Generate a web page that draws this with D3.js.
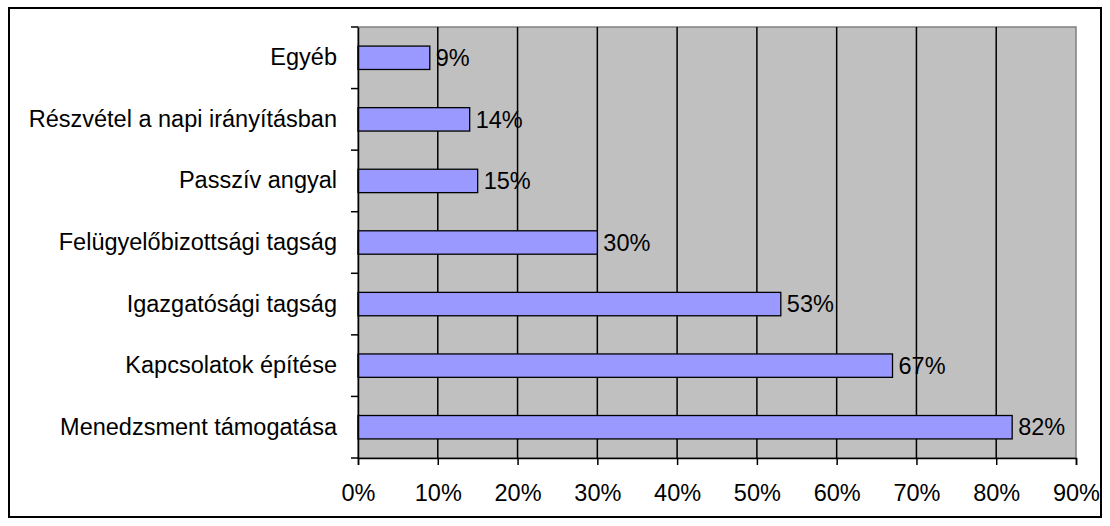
<!DOCTYPE html>
<html><head><meta charset="utf-8">
<script src="https://cdn.jsdelivr.net/npm/d3@7"></script>
<style>body{margin:0;background:#fff}text{font-family:"Liberation Sans",Arial,sans-serif}</style>
</head><body>
<svg id="c" width="1110" height="526"></svg>
<script>
const categories = ["Egyéb","Részvétel a napi irányításban","Passzív angyal","Felügyelőbizottsági tagság","Igazgatósági tagság","Kapcsolatok építése","Menedzsment támogatása"];
const values = [9,14,15,30,53,67,82];
const xTicks = [0,10,20,30,40,50,60,70,80,90];

const FS = 23.5;
const svg = d3.select("#c");
const L = 358, R = 1076, T = 27, B = 458;
svg.append("rect").attr("x",9).attr("y",8).attr("width",1092).attr("height",509)
  .attr("fill","#fff").attr("stroke","#000").attr("stroke-width",2);

const x = d3.scaleLinear().domain([0,90]).range([L,R]);
const y = d3.scaleBand().domain(categories).range([T,B]).paddingInner(0.62).paddingOuter(0.31);
const yb = d3.scaleBand().domain(categories).range([T,B]);

svg.append("rect").attr("x",L).attr("y",T).attr("width",R-L).attr("height",B-T)
  .attr("fill","#c0c0c0").attr("stroke","#808080").attr("stroke-width",1.5);

svg.append("g").selectAll("line").data(xTicks.slice(1,-1)).join("line")
  .attr("x1",d=>x(d)).attr("x2",d=>x(d)).attr("y1",T).attr("y2",B)
  .attr("stroke","#000").attr("stroke-width",1.5);

svg.append("g").selectAll("rect").data(values).join("rect")
  .attr("x",x(0)).attr("y",(d,i)=>y(categories[i])).attr("width",d=>x(d)-x(0)).attr("height",y.bandwidth())
  .attr("fill","#9999ff").attr("stroke","#000").attr("stroke-width",1.3);

svg.append("g").selectAll("text").data(values).join("text")
  .attr("x",d=>x(d)+6).attr("y",(d,i)=>y(categories[i])+y.bandwidth()/2)
  .attr("dy","0.35em").attr("font-size",FS).attr("fill","#000").text(d=>d+"%");

// axes
const xa = svg.append("g").attr("transform",`translate(0,${B})`)
  .call(d3.axisBottom(x).tickValues(xTicks).tickFormat(d=>d+"%").tickSize(7).tickPadding(19));
xa.select(".domain").attr("stroke","#000").attr("stroke-width",1.5);
xa.selectAll(".tick line").attr("stroke","#000").attr("stroke-width",1.5);
xa.selectAll("text").attr("font-size",FS).attr("fill","#000").attr("font-family","Liberation Sans, Arial, sans-serif");

const ya = svg.append("g").attr("transform",`translate(${L},0)`)
  .call(d3.axisLeft(yb).tickSize(0).tickPadding(21));
ya.select(".domain").attr("stroke","#000").attr("stroke-width",1.5);
ya.selectAll("text").attr("font-size",FS).attr("fill","#000").attr("font-family","Liberation Sans, Arial, sans-serif");

const boundaries = categories.map(c=>yb(c)).concat([B]);
svg.append("g").selectAll("line").data(boundaries).join("line")
  .attr("x1",L-7).attr("x2",L).attr("y1",d=>d).attr("y2",d=>d)
  .attr("stroke","#000").attr("stroke-width",1.5);
</script>
</body></html>
